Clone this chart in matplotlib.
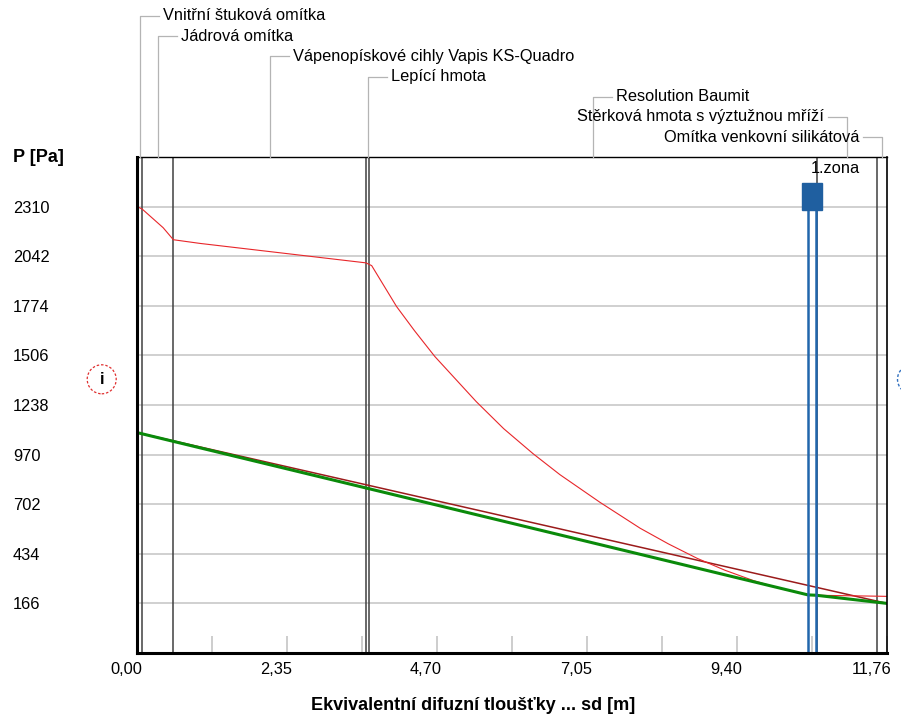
import numpy as np
import matplotlib.pyplot as plt
from matplotlib.patches import Circle, Rectangle
from matplotlib.lines import Line2D
from matplotlib.transforms import IdentityTransform, ScaledTranslation, blended_transform_factory

plt.rcParams['font.family'] = ['Liberation Sans', 'DejaVu Sans']

# layers of the wall (equivalent diffusion thickness sd, m)
layer_names = ['Vnitřní štuková omítka', 'Jádrová omítka', 'Vápenopískové cihly Vapis KS-Quadro',
               'Lepící hmota', 'Resolution Baumit', 'Stěrková hmota s výztužnou mříží',
               'Omítka venkovní silikátová']
layer_edges = [0.0, 0.08, 0.57, 3.59, 3.64, 10.66, 11.60, 11.76]

# saturated vapour pressure
sd_sat = [0.00, 0.08, 0.41, 0.57, 0.99, 3.59, 3.68, 4.07, 4.35, 4.67, 5.32, 5.75, 6.21, 6.63,
          7.26, 7.89, 8.33, 8.78, 9.22, 9.66, 10.10, 10.52, 10.65, 11.60, 11.76]
p_sat = [2310, 2297, 2196, 2131, 2111, 2006, 1991, 1770, 1640, 1500, 1256, 1110, 975, 862,
         712, 572, 488, 410, 345, 290, 245, 213, 210, 205, 204]

# partial pressure without condensation
sd_part = [0.00, 11.76]
p_part = [1089, 166]

# partial pressure with condensation
sd_cond = [0.00, 10.52, 10.65, 11.76]
p_cond = [1089, 212, 210, 166]

# condensation zone
zone_start, zone_end = 10.52, 10.65
zone_label = '1.zona'

x_ticks = [0.0, 1.176, 2.352, 3.528, 4.704, 5.88, 7.056, 8.232, 9.408, 10.584, 11.76]
x_labels = ['0,00', '', '2,35', '', '4,70', '', '7,05', '', '9,40', '', '11,76']
y_ticks = [166, 434, 702, 970, 1238, 1506, 1774, 2042, 2310]

W, H = 901, 719
fig = plt.figure(figsize=(W / 100, H / 100), dpi=100)
ax = fig.add_axes([137 / W, 66 / H, 750 / W, 496 / H])
ax.set_xlim(0, 11.76)
ax.set_ylim(-102, 2578)

fs = 11.8

# grid + ticks
ax.set_axisbelow(True)
ax.yaxis.grid(True, color='#c8c8c8', lw=1.2)
ax.set_yticks(y_ticks, [str(v) for v in y_ticks])
ax.tick_params(axis='y', length=0, pad=89.3, labelsize=fs)
for lbl in ax.get_yticklabels():
    lbl.set_ha('left')

ax.set_xticks(x_ticks, x_labels)
ax.tick_params(axis='x', direction='in', length=12.2, width=1.1, color='#c0c0c0',
               pad=6.5, labelsize=fs)
shift = ScaledTranslation(5 / 100, 0, fig.dpi_scale_trans)
for lbl in ax.get_xticklabels():
    lbl.set_ha('right')
    lbl.set_transform(lbl.get_transform() + shift)

for side, lw in [('left', 2.2), ('bottom', 2.2), ('top', 1.0), ('right', 1.2)]:
    ax.spines[side].set_linewidth(lw)
    ax.spines[side].set_color('black')
    ax.spines[side].set_zorder(6)

# layer boundaries
for e in layer_edges[1:-1]:
    ax.axvline(e, color='#404040', lw=1.1, zorder=2)

# curves
ax.plot(sd_part, p_part, color='#9b1b1b', lw=1.1, zorder=3)
ax.plot(sd_sat, p_sat, color='#e8262a', lw=0.8, zorder=3)
ax.plot(sd_cond, p_cond, color='#0a8a0a', lw=2.2, zorder=4)

# condensation zone marker
blend = blended_transform_factory(ax.transData, ax.transAxes)
for z in (zone_start, zone_end):
    ax.plot([z, z], [0, 0.90], transform=blend, color='#2166ac', lw=1.8, zorder=5)
zmid = (zone_start + zone_end) / 2
ax.add_patch(Rectangle((zmid - 0.157, 0.893), 0.314, 0.054, transform=blend,
                       color='#1f5fa0', zorder=5))
ax.annotate(zone_label, xy=(zone_start, 0.976), xycoords=blend, xytext=(3, 0),
            textcoords='offset pixels', va='center', ha='left', fontsize=fs)

# layer labels with leader lines
top_px = ax.transAxes.transform((0, 1))[1]
for i, name in enumerate(layer_names):
    mid = (layer_edges[i] + layer_edges[i + 1]) / 2
    x = ax.transData.transform((mid, 0))[0]
    y = top_px + 141 - 20.2 * i
    d = -1 if mid > 0.85 * layer_edges[-1] else 1
    fig.add_artist(Line2D([x, x, x + d * 19], [top_px, y, y], transform=IdentityTransform(),
                          color='#b4b4b4', lw=0.9))
    fig.text(x + d * 23, y, name, transform=IdentityTransform(), fontsize=fs,
             ha='left' if d > 0 else 'right', va='center')

# axis titles
fig.text(13 / W, 1 - 158 / H, 'P [Pa]', ha='left', va='center', fontsize=13, weight='bold')
fig.text(473 / W, 1 - 705.5 / H, 'Ekvivalentní difuzní tloušťky ... sd [m]',
         ha='center', va='center', fontsize=13, weight='bold')

# interior / exterior markers
fig.add_artist(Circle((101.7, H - 379.3), 14.5, transform=IdentityTransform(), fill=False,
                      ec='#e03030', lw=0.9, ls=(0, (2, 1.5))))
fig.text(101.7, H - 379.3, 'i', transform=IdentityTransform(), ha='center', va='center',
         fontsize=12, weight='bold')
fig.add_artist(Circle((912, H - 379.3), 14.5, transform=IdentityTransform(), fill=False,
                      ec='#3070c0', lw=1.0, ls=(0, (2, 1.5))))

fig.savefig('out.png', dpi=100)
